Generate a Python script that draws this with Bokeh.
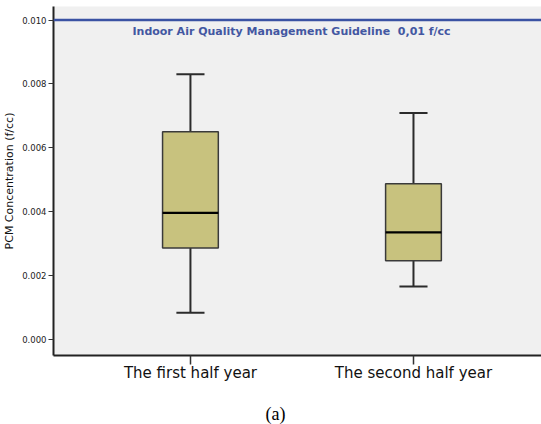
import numpy as np
from bokeh.plotting import figure
from bokeh.layouts import column
from bokeh.models import Span, Label, FixedTicker, ColumnDataSource, Range1d
from bokeh.core.properties import value
from bokeh.embed import file_html
from bokeh.resources import INLINE

# Box-plot summary of PCM fibre concentration per half year
categories = ["The first half year", "The second half year"]
positions = [1, 2]
whisker_low = [0.00083, 0.00165]
q1 = [0.00286, 0.00246]
median = [0.00396, 0.00335]
q3 = [0.00650, 0.00487]
whisker_high = [0.00830, 0.00709]

guideline = 0.01
guideline_text = "Indoor Air Quality Management Guideline\u00a0 0,01 f/cc"
caption = "(a)"
y_ticks = [0.000, 0.002, 0.004, 0.006, 0.008, 0.010]

box_width = 0.25
cap_width = 0.126

pos = np.array(positions, dtype=float)
src = ColumnDataSource(dict(
    x=pos, q1=q1, q3=q3, med=median, lo=whisker_low, hi=whisker_high,
    bx0=pos - box_width / 2, bx1=pos + box_width / 2,
    cx0=pos - cap_width / 2, cx1=pos + cap_width / 2,
))

p = figure(width=541, height=396, output_backend="svg", toolbar_location=None,
           x_range=Range1d(0.386, 2.574), y_range=Range1d(-0.00051, 0.010423),
           min_border_left=53, min_border_right=0, min_border_top=6,
           min_border_bottom=41)
p.background_fill_color = "#f0f0f0"
p.border_fill_color = "white"
p.outline_line_color = None
p.grid.visible = False

# whiskers
p.segment(x0="x", y0="q3", x1="x", y1="hi", source=src, line_color="#2b2b2b", line_width=2)
p.segment(x0="x", y0="lo", x1="x", y1="q1", source=src, line_color="#2b2b2b", line_width=2)
p.segment(x0="cx0", y0="hi", x1="cx1", y1="hi", source=src, line_color="#2b2b2b", line_width=2)
p.segment(x0="cx0", y0="lo", x1="cx1", y1="lo", source=src, line_color="#2b2b2b", line_width=2)

# boxes and medians
p.vbar(x="x", width=box_width, bottom="q1", top="q3", source=src,
       fill_color="#c8c27e", line_color="#3a3a3a", line_width=1.5)
p.segment(x0="bx0", y0="med", x1="bx1", y1="med", source=src, line_color="black", line_width=2.2)

# guideline
p.add_layout(Span(location=guideline, dimension="width", line_color="#3a52a3", line_width=2.5))
p.add_layout(Label(x=0.74, y=guideline - 0.00035, text=guideline_text,
                   text_font="DejaVu Sans", text_font_size="11px", text_font_style="bold",
                   text_color="#4357a2", text_baseline="middle"))

# axes
p.xaxis.ticker = FixedTicker(ticks=positions)
p.xaxis.major_label_overrides = {x: c for x, c in zip(positions, categories)}
p.xaxis.minor_tick_line_color = None
p.xaxis.major_tick_in = 0
p.xaxis.major_tick_out = 9
p.xaxis.major_tick_line_color = "#333333"
p.xaxis.major_tick_line_width = 1.5
p.xaxis.axis_line_color = "#222222"
p.xaxis.axis_line_width = 2
p.xaxis.major_label_text_font = "DejaVu Sans"
p.xaxis.major_label_text_font_size = "15px"
p.xaxis.major_label_text_color = "#111111"
p.xaxis.major_label_standoff = -1

p.yaxis.ticker = FixedTicker(ticks=y_ticks)
p.yaxis.major_label_overrides = {t: f"{t:.3f}" for t in y_ticks}
p.yaxis.minor_tick_line_color = None
p.yaxis.major_tick_in = 0
p.yaxis.major_tick_out = 5
p.yaxis.major_tick_line_color = "#333333"
p.yaxis.axis_line_color = "#222222"
p.yaxis.axis_line_width = 2
p.yaxis.major_label_text_font = "DejaVu Sans"
p.yaxis.major_label_text_font_size = "8.5px"
p.yaxis.major_label_text_color = "#222222"
p.yaxis.major_label_standoff = 2
p.yaxis.axis_label = "PCM Concentration (f/cc)"
p.yaxis.axis_label_text_font = "DejaVu Sans"
p.yaxis.axis_label_text_font_size = "11px"
p.yaxis.axis_label_text_font_style = "normal"
p.yaxis.axis_label_text_color = "#111111"
p.yaxis.axis_label_standoff = 3

# caption strip below the chart; the column aligns its frame with the chart
# frame, so its x range is expressed in page pixels over that frame
cap = figure(width=541, height=28, output_backend="svg", toolbar_location=None,
             x_range=Range1d(53, 541), y_range=Range1d(0, 28), min_border=0,
             x_axis_location=None, y_axis_location=None)
cap.grid.visible = False
cap.outline_line_color = None
cap.background_fill_color = "white"
cap.border_fill_color = "white"
cap.text(x=[275], y=[11], text=[caption], text_font=value("Liberation Serif"),
         text_font_size="18px", text_color="black", text_align="center",
         text_baseline="middle")

layout = column(p, cap, spacing=0)
open("out.html", "w").write(file_html(layout, INLINE))
